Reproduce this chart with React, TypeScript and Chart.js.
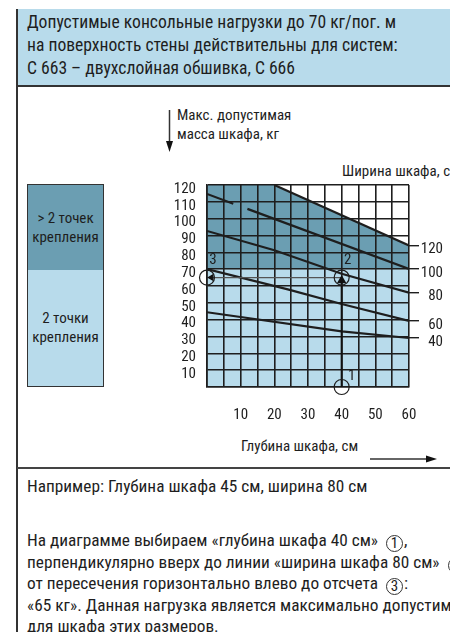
import React, { useEffect, useRef } from "react";
import { Chart, registerables } from "chart.js";

Chart.register(...registerables);

const FONT = '"Liberation Sans Narrow", "Arial Narrow", "Roboto Condensed", "Liberation Sans", Arial, sans-serif';

// ---- data ----
const depthMin = 0;
const depthMax = 60;
const massMin = 0;
const massMax = 120;
const depthStep = 5;
const massStep = 10;

// width lines (cabinet width, cm) : depth (x) -> max mass (y)
const w120X = [20, 60];
const w120Y = [120, 84.1];
const w100X = [0, 7.8, 10, 12, 60];
const w100Y: (number | null)[] = [114.7, 108.9, null, 105.8, 70.1];
const w80X = [0, 20, 40, 60];
const w80Y = [92.7, 81.2, 67.3, 56];
const w60X = [0, 24, 40, 60];
const w60Y = [70, 58, 49.3, 39.3];
const w40X = [0, 40, 60];
const w40Y = [44.4, 33, 29.1];
const widthLabels = ["120", "100", "80", "60", "40"];

// zones
const zoneSplit = 70; // boundary between "2 точки" and "> 2 точек"
const zoneLowX = [0, 60];
const zoneLowY = [70, 70];
const zoneHighX = [0, 20, 60];
const zoneHighY = [120, 120, 84.1];

// example markers
const markerX = [0, 40, 40];
const markerY = [65, 65, 0];
const markerLabels = ["3", "2", "1"];
const guideUpX = [40, 40];
const guideUpY = [0, 63.3];
const guideLeftX = [40, 1.3];
const guideLeftY = [65, 65];

// styles
const DARK = "#6b9eb2";
const LIGHT = "#b8dbeb";
const INK = "#1e1e1e";
const GRID_W = 1.6;
const LABEL_SHIFT = [
  [6, -17],
  [6, -17],
  [10, -11],
];

const pts = (xs: number[], ys: (number | null)[]) => xs.map((x, i) => ({ x, y: ys[i] }));

const markerLabelPlugin = {
  id: "markerLabels",
  afterDatasetsDraw(chart: any) {
    const { ctx, scales } = chart;
    const x = scales.x;
    const y = scales.y;
    ctx.save();
    ctx.font = `15px ${FONT}`;
    ctx.fillStyle = INK;
    ctx.textAlign = "center";
    ctx.textBaseline = "middle";
    markerLabels.forEach((t, i) => {
      const px = x.getPixelForValue(markerX[i]) + LABEL_SHIFT[i][0];
      const py = y.getPixelForValue(markerY[i]) + LABEL_SHIFT[i][1];
      ctx.fillText(t, px, py);
    });
    ctx.restore();
  },
};

function WallChart() {
  const ref = useRef<HTMLCanvasElement>(null);
  useEffect(() => {
    if (!ref.current) return;
    const lineDs = (xs: number[], ys: (number | null)[]) => ({
      type: "line" as const,
      data: pts(xs, ys),
      borderColor: INK,
      borderWidth: 2.2,
      pointRadius: 0,
      fill: false,
      tension: 0,
      order: 2,
    });
    const lineEnds = [w120Y, w100Y, w80Y, w60Y, w40Y].map((a) => a[a.length - 1] as number);
    const chart = new Chart(ref.current, {
      type: "line",
      data: {
        datasets: [
          {
            data: pts(markerX, markerY),
            showLine: false,
            fill: false,
            pointStyle: "circle",
            pointRadius: 7.5,
            pointBorderColor: INK,
            pointBackgroundColor: "rgba(0,0,0,0)",
            pointBorderWidth: 1.2,
            clip: false,
            order: 0,
          } as any,
          {
            data: pts(guideUpX, guideUpY),
            fill: false,
            borderColor: "#111",
            borderWidth: 2,
            pointRadius: [0, 3.5],
            pointStyle: "triangle",
            pointRotation: 0,
            pointBackgroundColor: "#111",
            pointBorderColor: "#111",
            order: 1,
          } as any,
          {
            data: pts(guideLeftX, guideLeftY),
            fill: false,
            borderColor: "#555",
            borderWidth: 1.3,
            pointRadius: [0, 3],
            pointStyle: "triangle",
            pointRotation: 270,
            pointBackgroundColor: "#111",
            pointBorderColor: "#111",
            order: 1,
          } as any,
          lineDs(w120X, w120Y),
          lineDs(w100X, w100Y),
          lineDs(w80X, w80Y),
          lineDs(w60X, w60Y),
          lineDs(w40X, w40Y),
          {
            data: pts(zoneHighX, zoneHighY),
            borderColor: "rgba(0,0,0,0)",
            borderWidth: 0,
            pointRadius: 0,
            backgroundColor: DARK,
            fill: { value: zoneSplit },
            order: 10,
          } as any,
          {
            data: pts(zoneLowX, zoneLowY),
            borderColor: "rgba(0,0,0,0)",
            borderWidth: 0,
            pointRadius: 0,
            backgroundColor: LIGHT,
            fill: "origin",
            order: 11,
          } as any,
        ],
      },
      options: {
        responsive: false,
        animation: false,
        events: [],
        layout: { padding: { top: 25, right: 7, left: 0, bottom: 0 } },
        plugins: {
          legend: { display: false },
          tooltip: { enabled: false },
          filler: { drawTime: "beforeDraw" },
        },
        scales: {
          x: {
            type: "linear",
            position: "bottom",
            min: depthMin,
            max: depthMax,
            afterFit: (s: any) => {
              s.height = 73;
            },
            ticks: {
              stepSize: depthStep,
              autoSkip: false,
              maxRotation: 0,
              padding: 19,
              color: INK,
              font: { family: FONT, size: 15 },
              callback: (v: any) => (Number(v) % 10 === 0 && Number(v) !== 0 ? String(v) : ""),
            },
            grid: { display: true, drawOnChartArea: true, drawTicks: false, color: INK, lineWidth: GRID_W },
            border: { display: true, color: INK, width: GRID_W },
          },
          y: {
            type: "linear",
            position: "left",
            min: massMin,
            max: massMax,
            afterFit: (s: any) => {
              s.width = 47;
            },
            ticks: {
              stepSize: massStep,
              autoSkip: false,
              padding: 11,
              labelOffset: 4,
              color: INK,
              font: { family: FONT, size: 15 },
              callback: (v: any) => (Number(v) === 0 ? "" : String(v)),
            },
            grid: { display: true, drawOnChartArea: true, drawTicks: false, color: INK, lineWidth: GRID_W },
            border: { display: true, color: INK, width: GRID_W },
          },
          y2: {
            type: "linear",
            position: "right",
            min: massMin,
            max: massMax,
            afterFit: (s: any) => {
              s.width = 34;
            },
            afterBuildTicks: (s: any) => {
              s.ticks = lineEnds.map((v) => ({ value: v }));
            },
            ticks: {
              autoSkip: false,
              padding: 3,
              labelOffset: 4,
              crossAlign: "far",
              color: INK,
              font: { family: FONT, size: 15 },
              callback: (_v: any, i: number) => widthLabels[i],
            },
            grid: { drawOnChartArea: false, drawTicks: true, tickLength: 10, color: INK, lineWidth: 1.4 },
            border: { display: false },
          },
        },
      } as any,
      plugins: [markerLabelPlugin],
    });
    return () => chart.destroy();
  }, []);
  return <canvas ref={ref} width={290} height={300} style={{ display: "block", width: 290, height: 300 }} />;
}

const abs = (left: number, top: number, extra: React.CSSProperties = {}): React.CSSProperties => ({
  position: "absolute",
  left,
  top,
  whiteSpace: "nowrap",
  ...extra,
});

const Circ = ({ n }: { n: string }) => (
  <span
    style={{
      display: "inline-block",
      width: 15,
      height: 15,
      border: "1px solid #333",
      borderRadius: "50%",
      textAlign: "center",
      lineHeight: "15px",
      fontSize: 15,
      verticalAlign: "-2px",
      margin: "0 1px 0 4px",
    }}
  >
    {n}
  </span>
);

export default function App() {
  const line = (top: number, content: React.ReactNode, size = 17.3) => (
    <div style={abs(27, top, { fontSize: size, lineHeight: "20px" })}>{content}</div>
  );
  return (
    <div
      style={{
        position: "absolute",
        left: 0,
        top: 0,
        width: 450,
        height: 632,
        overflow: "hidden",
        background: "#fff",
        fontFamily: FONT,
        color: INK,
      }}
    >
      {/* header */}
      <div style={abs(17, 9, { width: 460, height: 76, background: LIGHT, borderBottom: "2px solid #333" })} />
      {line(12, "Допустимые консольные нагрузки до 70 кг/пог. м", 17.6)}
      {line(35, "на поверхность стены действительны для систем:", 17.6)}
      {line(58, "С 663 – двухслойная обшивка, С 666", 17.6)}
      {/* left frame line */}
      <div style={abs(16, 9, { width: 2, height: 640, background: "#333" })} />
      {/* footer separator */}
      <div style={abs(17, 467, { width: 460, height: 2, background: "#444" })} />

      {/* legend zone boxes */}
      <div
        style={abs(27, 184, {
          width: 75,
          height: 85,
          background: DARK,
          border: "1px solid #333",
          display: "flex",
          alignItems: "center",
          justifyContent: "center",
          textAlign: "center",
          fontSize: 15,
          lineHeight: "19px",
          whiteSpace: "normal",
        })}
      >
        <div>
          &gt; 2 точек
          <br />
          крепления
        </div>
      </div>
      <div
        style={abs(27, 270, {
          width: 75,
          height: 116,
          background: LIGHT,
          border: "1px solid #333",
          borderTop: "none",
          display: "flex",
          alignItems: "center",
          justifyContent: "center",
          textAlign: "center",
          fontSize: 15,
          lineHeight: "19px",
          whiteSpace: "normal",
        })}
      >
        <div>
          2 точки
          <br />
          крепления
        </div>
      </div>

      {/* axis captions */}
      <svg style={abs(163, 108)} width={14} height={46}>
        <line x1={6.5} y1={2} x2={6.5} y2={34} stroke="#333" strokeWidth={1.5} />
        <polygon points="3,33 10,33 6.5,44" fill="#111" />
      </svg>
      <div style={abs(177, 106, { fontSize: 15, lineHeight: "19px" })}>
        Макс. допустимая
        <br />
        масса шкафа, кг
      </div>
      <div style={abs(342, 162, { fontSize: 15, lineHeight: "19px" })}>Ширина шкафа, см</div>
      <div style={abs(241, 437, { fontSize: 15, lineHeight: "19px" })}>Глубина шкафа, см</div>
      <svg style={abs(368, 453)} width={72} height={12}>
        <line x1={2} y1={6} x2={60} y2={6} stroke="#333" strokeWidth={1.5} />
        <polygon points="58,2.5 58,9.5 69,6" fill="#111" />
      </svg>

      {/* chart */}
      <div style={abs(160, 160, { width: 290, height: 300 })}>
        <WallChart />
      </div>

      {/* footer text */}
      {line(476, "Например: Глубина шкафа 45 см, ширина 80 см")}
      {line(530, <>На диаграмме выбираем «глубина шкафа 40 см» <Circ n="1" />,</>)}
      {line(552, <>перпендикулярно вверх до линии «ширина шкафа 80 см» <Circ n="2" /></>)}
      {line(573, <>от пересечения горизонтально влево до отсчета <Circ n="3" />:</>)}
      {line(595, "«65 кг». Данная нагрузка является максимально допустимой")}
      {line(616, "для шкафа этих размеров.")}
    </div>
  );
}
